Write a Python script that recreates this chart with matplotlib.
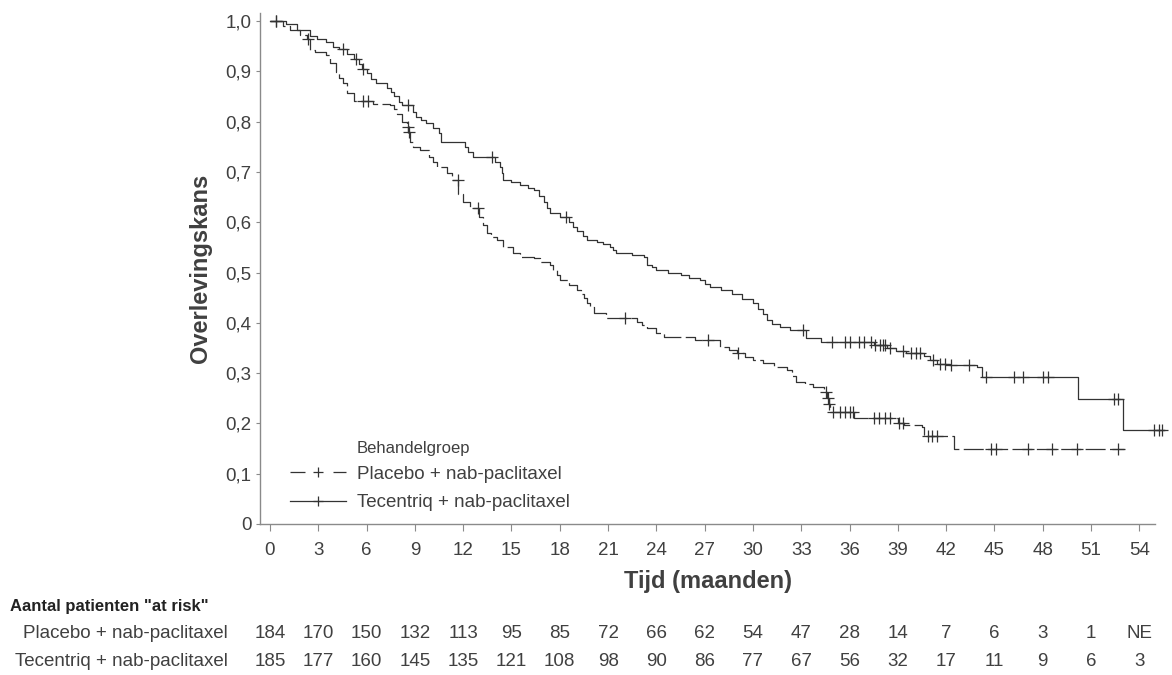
import numpy as np
import matplotlib

matplotlib.use("Agg")
import matplotlib.pyplot as plt
from matplotlib.lines import Line2D

plt.rcParams["font.family"] = ["Liberation Sans", "DejaVu Sans"]

# Kaplan-Meier steps: (month, survival after the drop)
tec_t = [0, 1.0, 1.66, 2.5, 2.9, 3.5, 3.9, 4.3, 4.8, 5.2, 5.5, 5.7, 6.0, 6.3, 6.6,
         7.25, 7.5, 7.7, 8.0, 8.2, 8.9, 9.1, 9.4, 9.7, 10.1, 10.5, 10.6, 12.1, 12.3,
         12.6, 14.0, 14.3, 14.4, 14.5, 15.0, 15.5, 16.0, 16.4, 16.7, 17.0, 17.2, 17.4,
         18.0, 18.6, 18.8, 19.1, 19.45, 19.7, 20.3, 20.7, 21.1, 21.3, 21.5, 22.5, 23.2,
         23.4, 23.7, 24.0, 24.7, 25.5, 26.0, 26.7, 27.0, 27.3, 28.0, 28.7, 29.3, 30.0,
         30.3, 30.6, 30.85, 31.2, 31.7, 32.3, 33.3, 34.2, 37.5, 38.3, 38.9, 39.5, 40.6,
         41.0, 41.4, 42.2, 43.9, 44.2, 50.2, 53.0, 55.5]
tec_s = [1.0, 0.994, 0.982, 0.970, 0.964, 0.959, 0.949, 0.944, 0.934, 0.925, 0.915,
         0.905, 0.897, 0.885, 0.876, 0.866, 0.858, 0.850, 0.840, 0.833, 0.820, 0.810,
         0.803, 0.797, 0.787, 0.777, 0.760, 0.750, 0.740, 0.730, 0.720, 0.710, 0.697,
         0.684, 0.680, 0.674, 0.669, 0.664, 0.652, 0.640, 0.628, 0.618, 0.610, 0.600,
         0.591, 0.583, 0.572, 0.565, 0.561, 0.556, 0.551, 0.545, 0.538, 0.534, 0.531,
         0.515, 0.510, 0.505, 0.500, 0.495, 0.490, 0.485, 0.478, 0.472, 0.465, 0.457,
         0.448, 0.439, 0.428, 0.418, 0.406, 0.398, 0.392, 0.386, 0.369, 0.362, 0.356,
         0.349, 0.343, 0.339, 0.334, 0.327, 0.319, 0.316, 0.313, 0.293, 0.248, 0.187,
         0.187]
tec_cens = [0.4, 4.55, 5.35, 5.8, 8.6, 13.8, 18.4, 33.1, 34.9, 35.7, 36.0, 36.6, 36.9,
            37.3, 37.6, 37.9, 38.1, 38.2, 38.5, 39.3, 39.8, 40.1, 40.4, 41.2, 41.6,
            41.9, 42.3, 43.4, 44.5, 46.2, 46.8, 48.0, 48.3, 52.4, 52.7, 54.9, 55.2, 55.4]

pla_t = [0, 0.8, 1.24, 1.86, 2.3, 2.5, 2.8, 3.5, 3.7, 4.1, 4.3, 4.55, 4.8, 5.2, 6.4,
         7.45, 7.7, 7.9, 8.2, 8.5, 8.6, 8.7, 8.9, 9.3, 9.9, 10.1, 10.35, 11.0, 11.3,
         11.7, 12.0, 12.4, 13.0, 13.2, 13.5, 13.7, 14.1, 14.5, 15.1, 15.5, 16.4, 16.8,
         17.4, 17.6, 17.8, 18.0, 18.6, 19.05, 19.3, 19.5, 19.7, 19.9, 20.1, 20.9, 22.8,
         23.1, 23.4, 24.0, 24.5, 26.4, 27.95, 28.5, 29.0, 29.5, 30.0, 30.6, 31.3, 32.1,
         32.4, 32.7, 33.2, 33.7, 34.4, 34.6, 34.7, 34.8, 36.3, 39.0, 39.4, 40.5, 40.6,
         42.5, 53.1]
pla_s = [1.0, 0.990, 0.982, 0.972, 0.965, 0.942, 0.939, 0.932, 0.916, 0.899, 0.887,
         0.876, 0.856, 0.842, 0.836, 0.833, 0.825, 0.816, 0.800, 0.790, 0.780, 0.760,
         0.750, 0.744, 0.730, 0.720, 0.710, 0.697, 0.684, 0.657, 0.641, 0.628, 0.611,
         0.595, 0.578, 0.571, 0.565, 0.551, 0.538, 0.531, 0.528, 0.521, 0.515, 0.505,
         0.495, 0.485, 0.475, 0.465, 0.457, 0.449, 0.440, 0.432, 0.419, 0.410, 0.402,
         0.395, 0.389, 0.380, 0.372, 0.366, 0.352, 0.345, 0.339, 0.333, 0.326, 0.320,
         0.313, 0.306, 0.295, 0.283, 0.278, 0.273, 0.263, 0.250, 0.238, 0.223, 0.210,
         0.200, 0.197, 0.193, 0.175, 0.150, 0.150]
pla_cens = [0.4, 2.35, 5.8, 6.1, 8.55, 8.65, 11.65, 12.9, 22.05, 27.2, 29.05, 34.55,
            34.65, 34.75, 35.0, 35.4, 35.7, 36.0, 36.2, 37.5, 37.8, 38.2, 38.5, 39.1,
            39.3, 40.9, 41.1, 41.4, 44.8, 45.1, 47.1, 48.6, 50.1, 52.7]

x_ticks = list(range(0, 55, 3))
y_ticks = [0, 0.1, 0.2, 0.3, 0.4, 0.5, 0.6, 0.7, 0.8, 0.9, 1.0]
y_tick_labels = ["0", "0,1", "0,2", "0,3", "0,4", "0,5", "0,6", "0,7", "0,8", "0,9", "1,0"]

groups = ["Placebo + nab-paclitaxel", "Tecentriq + nab-paclitaxel"]
risk_placebo = ["184", "170", "150", "132", "113", "95", "85", "72", "66", "62", "54",
                "47", "28", "14", "7", "6", "3", "1", "NE"]
risk_tecentriq = ["185", "177", "160", "145", "135", "121", "108", "98", "90", "86", "77",
                  "67", "56", "32", "17", "11", "9", "6", "3"]

LINE = "#333333"
TEXT = "#404040"
AXIS = "#8a8a8a"
FS = 13.5


def step_value(t, s, x):
    idx = np.searchsorted(np.asarray(t), np.asarray(x), side="right") - 1
    return np.asarray(s)[idx]


fig = plt.figure(figsize=(11.72, 6.75), dpi=100)
ax = fig.add_axes([260 / 1172, 151 / 675, 895 / 1172, 511 / 675])

ax.step(tec_t, tec_s, where="post", color=LINE, lw=0.9, clip_on=False)
ax.plot(tec_cens, step_value(tec_t, tec_s, tec_cens), ls="none", marker="+",
        ms=8, mew=0.9, color=LINE, clip_on=False)

ax.step(pla_t, pla_s, where="post", color=LINE, lw=0.9, dashes=(16, 3.5),
        clip_on=False)
ax.plot(pla_cens, step_value(pla_t, pla_s, pla_cens), ls="none", marker="+",
        ms=8, mew=0.9, color=LINE, clip_on=False)

ax.set_xlim(-0.62, 54.97)
ax.set_ylim(0, 1.016)
ax.set_xticks(x_ticks)
ax.set_yticks(y_ticks)
ax.set_yticklabels(y_tick_labels)
ax.tick_params(axis="x", length=5, width=0.8, color=AXIS, pad=8, labelsize=FS,
               labelcolor=TEXT)
ax.tick_params(axis="y", length=3, width=0.8, color=AXIS, pad=3, labelsize=FS,
               labelcolor=TEXT)
for side in ["top", "right"]:
    ax.spines[side].set_visible(False)
for side in ["left", "bottom"]:
    ax.spines[side].set_color(AXIS)
    ax.spines[side].set_linewidth(1.0)

ax.set_ylabel("Overlevingskans", fontsize=17, fontweight="bold", color=TEXT, labelpad=10)
ax.set_xlabel("Tijd (maanden)", fontsize=17, fontweight="bold", color=TEXT, labelpad=8)

# legend
handles = [
    Line2D([], [], color=LINE, lw=0.9, dashes=(12, 22.4), marker="+", ms=7, mew=0.9),
    Line2D([], [], color=LINE, lw=0.9, marker="+", ms=7, mew=0.9),
]
ax.text(0.108, 0.147, "Behandelgroep", transform=ax.transAxes, fontsize=12,
        color=TEXT, va="center", ha="left")
leg = ax.legend(handles, groups, loc="upper left", bbox_to_anchor=(0.0335, 0.114),
                frameon=False, fontsize=FS, handlelength=3.0, handletextpad=0.6,
                labelspacing=0.6, borderpad=0, borderaxespad=0, labelcolor=TEXT)

# number at risk table
fig.text(10 / 1172, 1 - 606 / 675, 'Aantal patienten "at risk"', fontsize=12,
         fontweight="bold", color="#222222", va="center", ha="left")
for row, (label, counts) in enumerate(zip(groups, [risk_placebo, risk_tecentriq])):
    y_px = 634 + 28 * row
    fig.text(228 / 1172, 1 - y_px / 675, label, fontsize=FS,
             color=TEXT, va="center", ha="right")
    for xt, c in zip(x_ticks, counts):
        ax.text(xt, -(y_px - 524) / 511, c, transform=ax.get_xaxis_transform(),
                fontsize=FS, color=TEXT, va="center", ha="center", clip_on=False)

fig.savefig("out.png", dpi=100)
